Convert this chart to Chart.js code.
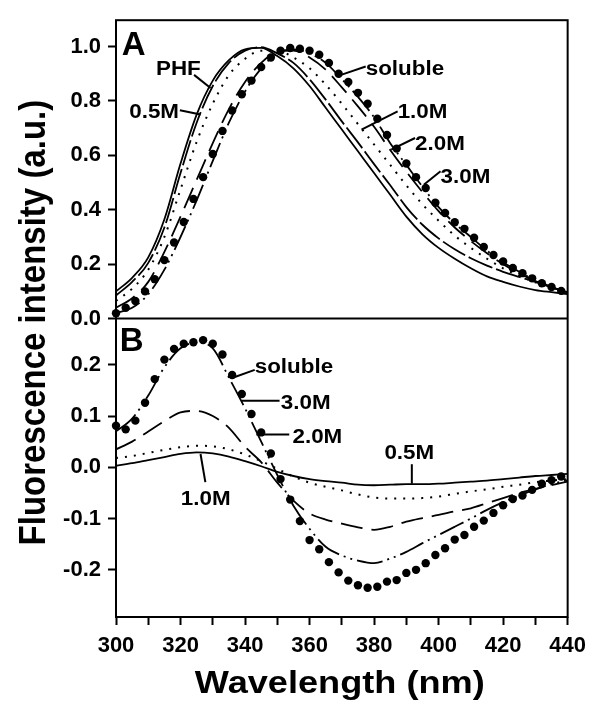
<!DOCTYPE html>
<html lang="en">
<head>
    <meta charset="UTF-8">
    <title>Fluorescence spectra</title>
    <script src="https://cdn.jsdelivr.net/npm/chart.js"></script>
    <style>
        body { margin: 0; background: #fff; }
        canvas { display: block; }
    </style>
</head>
<body>
    <canvas id="spectra" width="594" height="709"></canvas>

    <script>
        // Wavelength grid of the smooth curves (nm)
        const wavelengths = [300, 305, 310, 315, 320, 325, 330, 335, 340, 345, 350, 355, 360, 365, 370,
                             375, 380, 385, 390, 395, 400, 405, 410, 415, 420, 425, 430, 435, 440];
        // Wavelengths of the plotted "soluble" symbols (nm)
        const dotWavelengths = [300, 303, 306, 309, 312, 315, 318, 321, 324, 327, 330, 333, 336, 339, 342, 345,
                                348, 351, 354, 357, 360, 363, 366, 369, 372, 375, 378, 381, 384, 387, 390, 393,
                                396, 399, 402, 405, 408, 411, 414, 417, 420, 423, 426, 429, 432, 435, 438];

        // Panel A: normalised emission spectra
        const phfA = [0.10, 0.15, 0.225, 0.365, 0.57, 0.75, 0.875, 0.95, 0.99, 0.995, 0.965, 0.92, 0.855, 0.775, 0.695,
                      0.615, 0.535, 0.455, 0.375, 0.31, 0.26, 0.22, 0.185, 0.155, 0.135, 0.118, 0.105, 0.097, 0.09];
        const m05A = [0.085, 0.135, 0.205, 0.335, 0.535, 0.72, 0.855, 0.94, 0.985, 0.998, 0.975, 0.94, 0.88, 0.805, 0.725,
                      0.648, 0.568, 0.49, 0.41, 0.345, 0.295, 0.255, 0.222, 0.195, 0.172, 0.153, 0.135, 0.115, 0.097];
        const m10A = [0.065, 0.11, 0.18, 0.30, 0.475, 0.65, 0.79, 0.895, 0.955, 0.985, 0.985, 0.96, 0.92, 0.86, 0.79,
                      0.715, 0.64, 0.565, 0.49, 0.42, 0.36, 0.305, 0.26, 0.22, 0.185, 0.157, 0.133, 0.113, 0.097];
        const m20A = [0.04, 0.075, 0.135, 0.245, 0.375, 0.51, 0.645, 0.77, 0.87, 0.94, 0.98, 0.985, 0.96, 0.915, 0.85,
                      0.78, 0.705, 0.62, 0.54, 0.465, 0.395, 0.335, 0.285, 0.24, 0.2, 0.167, 0.138, 0.115, 0.095];
        const m30A = [0.02, 0.04, 0.09, 0.18, 0.30, 0.435, 0.58, 0.72, 0.835, 0.92, 0.975, 0.99, 0.975, 0.94, 0.88,
                      0.815, 0.74, 0.645, 0.565, 0.485, 0.41, 0.35, 0.3, 0.25, 0.207, 0.172, 0.141, 0.117, 0.095];
        const solubleA = [0.02, 0.04, 0.065, 0.10, 0.145, 0.215, 0.28, 0.355, 0.44, 0.52, 0.605, 0.69, 0.765, 0.825, 0.875, 0.925,
                          0.96, 0.985, 0.995, 0.992, 0.985, 0.97, 0.94, 0.90, 0.87, 0.83, 0.79, 0.735, 0.675, 0.625, 0.57, 0.52,
                          0.48, 0.426, 0.388, 0.354, 0.33, 0.297, 0.263, 0.234, 0.21, 0.186, 0.167, 0.148, 0.13, 0.116, 0.102];

        // Panel B: difference spectra
        const m05B = [0.003, 0.008, 0.014, 0.02, 0.026, 0.029, 0.027, 0.021, 0.012, 0.002, -0.009, -0.017, -0.023, -0.027, -0.03,
                      -0.034, -0.035, -0.034, -0.033, -0.033, -0.032, -0.03, -0.028, -0.026, -0.023, -0.02, -0.017, -0.015, -0.013];
        const m10B = [0.018, 0.022, 0.028, 0.034, 0.039, 0.042, 0.041, 0.035, 0.025, 0.012, -0.003, -0.018, -0.03, -0.038, -0.045,
                      -0.053, -0.059, -0.061, -0.061, -0.06, -0.057, -0.052, -0.047, -0.043, -0.038, -0.034, -0.029, -0.026, -0.023];
        const m20B = [0.035, 0.05, 0.07, 0.09, 0.107, 0.11, 0.1, 0.077, 0.04, 0.01, -0.03, -0.065, -0.09, -0.102, -0.11,
                      -0.117, -0.122, -0.116, -0.106, -0.099, -0.093, -0.086, -0.08, -0.07, -0.06, -0.05, -0.042, -0.035, -0.028];
        const m30B = [0.07, 0.095, 0.14, 0.195, 0.232, 0.243, 0.232, 0.175, 0.115, 0.05, -0.015, -0.075, -0.12, -0.155, -0.172,
                      -0.182, -0.187, -0.178, -0.165, -0.148, -0.132, -0.116, -0.1, -0.083, -0.068, -0.055, -0.043, -0.033, -0.025];
        const solubleB = [0.081, 0.074, 0.091, 0.126, 0.172, 0.21, 0.231, 0.241, 0.244, 0.248, 0.241, 0.22, 0.18, 0.143, 0.104, 0.068,
                          0.027, -0.023, -0.063, -0.105, -0.142, -0.16, -0.185, -0.205, -0.221, -0.23, -0.235, -0.233, -0.223, -0.22, -0.206, -0.2,
                          -0.187, -0.171, -0.158, -0.141, -0.132, -0.116, -0.104, -0.089, -0.074, -0.062, -0.055, -0.044, -0.032, -0.025, -0.018];

        // Tick labels
        const yATicks = [0, 0.2, 0.4, 0.6, 0.8, 1.0];
        const yBTicks = [-0.2, -0.1, 0, 0.1, 0.2];

        const FONT = "'Liberation Sans', Arial, sans-serif";

        // Curve labels and their leader lines, in data units of each panel
        const notes = [
            { axis: 'yA', text: 'A', x: 301.8, y: 0.969, size: 33 },
            { axis: 'yA', text: 'PHF', x: 312.4, y: 0.896, line: [324.2, 0.896, 329.3, 0.848] },
            { axis: 'yA', text: '0.5M', x: 304.1, y: 0.738, line: [319.8, 0.766, 326.2, 0.75] },
            { axis: 'yA', text: 'soluble', x: 377.4, y: 0.896, line: [377.4, 0.927, 370.0, 0.897] },
            { axis: 'yA', text: '1.0M', x: 387.3, y: 0.738, line: [387.3, 0.762, 376.1, 0.695] },
            { axis: 'yA', text: '2.0M', x: 392.7, y: 0.621, line: [392.7, 0.664, 385.3, 0.621] },
            { axis: 'yA', text: '3.0M', x: 400.6, y: 0.499, line: [400.6, 0.542, 395.5, 0.493] },
            { axis: 'yB', text: 'B', x: 301.2, y: 0.226, size: 33 },
            { axis: 'yB', text: 'soluble', x: 343.0, y: 0.184, line: [343.0, 0.19, 336.4, 0.175] },
            { axis: 'yB', text: '3.0M', x: 351.1, y: 0.113, line: [338.9, 0.13, 350.7, 0.13] },
            { axis: 'yB', text: '2.0M', x: 354.7, y: 0.048, line: [343.5, 0.064, 353.7, 0.064] },
            { axis: 'yB', text: '1.0M', x: 320.1, y: -0.074, line: [327.7, -0.029, 326.2, 0.026] },
            { axis: 'yB', text: '0.5M', x: 383.2, y: 0.016, line: [391.7, 0.006, 391.7, -0.032] }
        ];

        function pts(xs, ys) {
            return xs.map((x, i) => ({ x: x, y: ys[i] }));
        }

        function curve(label, ys, axis, dash, width) {
            return {
                label: label,
                data: pts(wavelengths, ys),
                yAxisID: axis,
                borderColor: '#000',
                borderWidth: width || 1.8,
                borderDash: dash,
                borderCapStyle: 'butt',
                pointRadius: 0,
                fill: false,
                cubicInterpolationMode: 'monotone'
            };
        }

        function symbols(label, ys, axis) {
            return {
                label: label,
                data: pts(dotWavelengths, ys),
                yAxisID: axis,
                showLine: false,
                pointRadius: 4.2,
                pointBackgroundColor: '#000',
                pointBorderColor: '#000',
                pointBorderWidth: 0,
                clip: false
            };
        }

        const SOLID = [];
        const LONG_DASH = [22, 9];
        const DOTTED = [2, 7];
        const DASH_DOT_DOT = [26, 5, 2, 5, 2, 5];

        const tickFont = { family: FONT, size: 22, weight: 'bold' };
        const tickGrid = { drawOnChartArea: false, tickLength: 8, tickWidth: 2, tickColor: '#000' };
        const fmt = v => (Math.abs(v) < 1e-9 ? 0 : v).toFixed(1);

        // Frame round both panels plus the divider between them
        const framePlugin = {
            id: 'frame',
            afterDraw(chart) {
                const ctx = chart.ctx;
                const a = chart.chartArea;
                ctx.save();
                ctx.strokeStyle = '#000';
                ctx.lineWidth = 2;
                ctx.strokeRect(a.left, a.top, a.right - a.left, a.bottom - a.top);
                const split = chart.scales.yA.bottom;
                ctx.beginPath();
                ctx.moveTo(a.left, split);
                ctx.lineTo(a.right, split);
                ctx.stroke();
                ctx.restore();
            }
        };

        // Curve labels, leader lines and axis titles
        const notesPlugin = {
            id: 'notes',
            afterDraw(chart) {
                const ctx = chart.ctx;
                const xs = chart.scales.x;
                const a = chart.chartArea;
                ctx.save();
                ctx.fillStyle = '#000';
                ctx.strokeStyle = '#000';
                ctx.lineWidth = 2;
                notes.forEach(n => {
                    const ys = chart.scales[n.axis];
                    if (n.line) {
                        ctx.beginPath();
                        ctx.moveTo(xs.getPixelForValue(n.line[0]), ys.getPixelForValue(n.line[1]));
                        ctx.lineTo(xs.getPixelForValue(n.line[2]), ys.getPixelForValue(n.line[3]));
                        ctx.stroke();
                    }
                    ctx.save();
                    ctx.translate(xs.getPixelForValue(n.x), ys.getPixelForValue(n.y));
                    if (!n.size) ctx.scale(1.12, 1);
                    ctx.font = 'bold ' + (n.size || 20) + 'px ' + FONT;
                    ctx.textAlign = 'left';
                    ctx.textBaseline = 'alphabetic';
                    ctx.fillText(n.text, 0, 0);
                    ctx.restore();
                });

                // x title
                ctx.save();
                ctx.translate((a.left + a.right) / 2 - 2, a.bottom + 76);
                ctx.scale(1.13, 1);
                ctx.font = 'bold 32px ' + FONT;
                ctx.textAlign = 'center';
                ctx.textBaseline = 'alphabetic';
                ctx.fillText('Wavelength (nm)', 0, 0);
                ctx.restore();

                // y title
                ctx.save();
                ctx.translate(35, (a.top + a.bottom) / 2 + 4);
                ctx.rotate(-Math.PI / 2);
                ctx.scale(1, 1.1);
                ctx.font = 'bold 33px ' + FONT;
                ctx.textAlign = 'center';
                ctx.textBaseline = 'middle';
                ctx.fillText('Fluorescence intensity (a.u.)', 0, 0);
                ctx.restore();
                ctx.restore();
            }
        };

        new Chart(document.getElementById('spectra'), {
            type: 'line',
            data: {
                datasets: [
                    symbols('soluble', solubleA, 'yA'),
                    curve('PHF', phfA, 'yA', SOLID),
                    curve('0.5M', m05A, 'yA', [26, 4]),
                    curve('1.0M', m10A, 'yA', DOTTED, 2),
                    curve('2.0M', m20A, 'yA', LONG_DASH),
                    curve('3.0M', m30A, 'yA', DASH_DOT_DOT),
                    symbols('soluble', solubleB, 'yB'),
                    curve('0.5M', m05B, 'yB', SOLID),
                    curve('1.0M', m10B, 'yB', DOTTED, 2),
                    curve('2.0M', m20B, 'yB', LONG_DASH),
                    curve('3.0M', m30B, 'yB', DASH_DOT_DOT)
                ]
            },
            options: {
                responsive: false,
                animation: false,
                layout: { padding: { top: 17, right: 20, left: 0, bottom: 0 } },
                plugins: {
                    legend: { display: false },
                    tooltip: { enabled: false }
                },
                scales: {
                    x: {
                        type: 'linear',
                        min: 300,
                        max: 440,
                        border: { display: false },
                        grid: tickGrid,
                        ticks: {
                            stepSize: 10,
                            autoSkip: false,
                            maxRotation: 0,
                            padding: 8,
                            color: '#000',
                            font: tickFont,
                            callback: v => (v % 20 === 0 ? v : '')
                        },
                        afterFit: s => { s.height = 92; }
                    },
                    yB: {
                        type: 'linear',
                        position: 'left',
                        stack: 'panels',
                        stackWeight: 1,
                        weight: 1,
                        min: -0.292,
                        max: 0.29,
                        border: { display: false },
                        grid: tickGrid,
                        ticks: { padding: 7, color: '#000', font: tickFont, callback: fmt },
                        afterBuildTicks: s => { s.ticks = yBTicks.map(v => ({ value: v })); },
                        afterFit: s => { s.width = 116; }
                    },
                    yA: {
                        type: 'linear',
                        position: 'left',
                        stack: 'panels',
                        stackWeight: 1,
                        weight: 2,
                        min: 0,
                        max: 1.097,
                        border: { display: false },
                        grid: tickGrid,
                        ticks: { padding: 7, color: '#000', font: tickFont, callback: fmt },
                        afterBuildTicks: s => { s.ticks = yATicks.map(v => ({ value: v })); },
                        afterFit: s => { s.width = 116; }
                    }
                }
            },
            plugins: [framePlugin, notesPlugin]
        });
    </script>
</body>
</html>
